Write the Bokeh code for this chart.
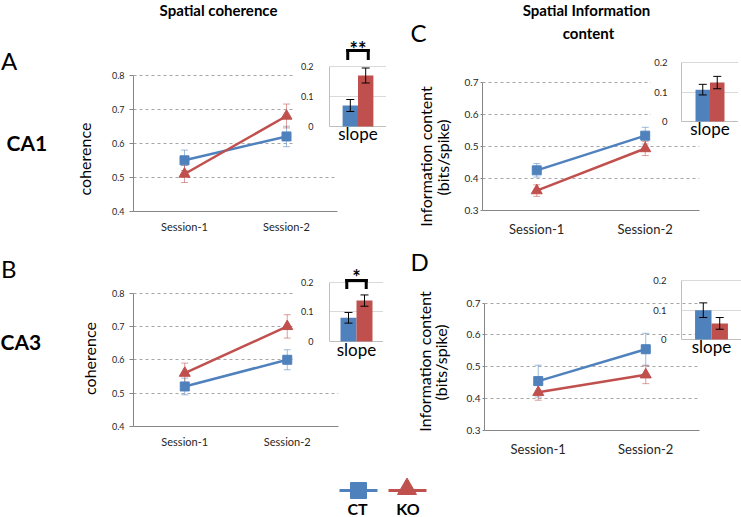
from bokeh.plotting import figure
from bokeh.models import (ColumnDataSource, FactorRange, Range1d, FixedTicker,
                          Whisker, TeeHead, GridBox, Span)
from bokeh.transform import dodge
from bokeh.core.properties import value
from bokeh.embed import file_html
from bokeh.resources import INLINE
import math

FONT = "Lato"
BLUE = "#4F81BD"
RED = "#C0504D"
AXIS = "#868686"
GRID = "#A6A6A6"
TXT = "#262626"

# ---------------- data ----------------
sessions = ["Session-1", "Session-2"]

# Panel A: CA1 spatial coherence
a_ct = [0.55, 0.62]
a_ct_err = [0.03, 0.03]
a_ko = [0.51, 0.68]
a_ko_err = [0.025, 0.035]
# Panel B: CA3 spatial coherence
b_ct = [0.52, 0.60]
b_ct_err = [0.025, 0.03]
b_ko = [0.56, 0.70]
b_ko_err = [0.03, 0.035]
# Panel C: CA1 information content
c_ct = [0.425, 0.533]
c_ct_err = [0.021, 0.026]
c_ko = [0.362, 0.493]
c_ko_err = [0.018, 0.022]
# Panel D: CA3 information content
d_ct = [0.455, 0.555]
d_ct_err = [0.05, 0.05]
d_ko = [0.42, 0.475]
d_ko_err = [0.025, 0.028]

coh_ticks = [0.4, 0.5, 0.6, 0.7, 0.8]
info_ticks = [0.3, 0.4, 0.5, 0.6, 0.7]

# inset slope bars (order: A, B, C, D)
slope_cat = ["slope"]
slope_ticks = [0, 0.1, 0.2]
slope_ct = [0.07, 0.08, 0.108, 0.10]
slope_ct_err = [0.02, 0.018, 0.018, 0.025]
slope_ko = [0.17, 0.138, 0.132, 0.055]
slope_ko_err = [0.025, 0.019, 0.021, 0.02]
sig_marks = ["**", "*"]
sig_bracket_top = [0.253, 0.206]
sig_bracket_leg = [0.026, 0.024]
sig_star_base = [0.257, 0.217]

legend_labels = ["CT", "KO"]


def clear_fill(p, opaque):
    p.outline_line_color = None
    if opaque:
        p.background_fill_color = "white"
        p.border_fill_color = "white"
    else:
        p.background_fill_alpha = 0
        p.border_fill_alpha = 0


def main_panel(ct, cte, ko, koe, ticks, fw, fh, borders, tick_fs, cat_fs,
               cat_standoff, tick_out, tick_standoff):
    bl, bt, br, bb = borders
    lo, hi = ticks[0], ticks[-1]
    pad = (hi - lo) * 0.004
    p = figure(x_range=FactorRange(factors=sessions, range_padding=0),
               y_range=Range1d(lo, hi + pad),
               width=bl + fw + br, height=bt + fh + bb,
               min_border_left=bl, min_border_top=bt,
               min_border_right=br, min_border_bottom=bb,
               toolbar_location=None, output_backend="svg", title=None)
    clear_fill(p, False)
    src = ColumnDataSource(dict(
        x=sessions, ct=ct, ko=ko,
        ct_lo=[v - e for v, e in zip(ct, cte)], ct_hi=[v + e for v, e in zip(ct, cte)],
        ko_lo=[v - e for v, e in zip(ko, koe)], ko_hi=[v + e for v, e in zip(ko, koe)]))
    for key, col in (("ct", BLUE), ("ko", RED)):
        w = Whisker(source=src, base="x", lower=key + "_lo", upper=key + "_hi",
                    line_color=col, line_alpha=0.55, line_width=1,
                    upper_head=TeeHead(size=7, line_color=col, line_alpha=0.55, line_width=1),
                    lower_head=TeeHead(size=7, line_color=col, line_alpha=0.55, line_width=1))
        p.add_layout(w)
    p.line("x", "ct", source=src, line_color=BLUE, line_width=2.5)
    p.line("x", "ko", source=src, line_color=RED, line_width=2.5)
    p.scatter("x", "ct", source=src, marker="square", size=9,
              fill_color=BLUE, line_color=BLUE)
    p.scatter("x", "ko", source=src, marker="triangle", size=11,
              fill_color=RED, line_color=RED)

    xa = p.xaxis[0]
    xa.axis_line_color = AXIS
    xa.major_tick_line_color = None
    xa.minor_tick_line_color = None
    xa.major_label_text_font = FONT
    xa.major_label_text_font_size = cat_fs
    xa.major_label_text_color = TXT
    xa.major_label_standoff = cat_standoff

    ya = p.yaxis[0]
    ya.ticker = FixedTicker(ticks=ticks)
    ya.bounds = (lo, hi)
    ya.axis_line_color = AXIS
    ya.major_tick_line_color = AXIS
    ya.major_tick_out = tick_out
    ya.major_tick_in = 0
    ya.minor_tick_line_color = None
    ya.major_label_text_font = FONT
    ya.major_label_text_font_size = tick_fs
    ya.major_label_text_color = TXT
    ya.major_label_standoff = tick_standoff

    p.xgrid.visible = False
    p.ygrid.ticker = FixedTicker(ticks=ticks)
    p.ygrid.grid_line_color = GRID
    p.ygrid.grid_line_dash = "3 3"
    p.ygrid.grid_line_width = 1
    return p


def inset_panel(i, fw, px_per_unit, above_px, below_px, label_px, bl, opaque,
                bar_w, tick_fs, tick_standoff):
    """above_px: frame height above value 0; below_px: frame height below 0."""
    p = figure(x_range=FactorRange(factors=slope_cat, range_padding=0),
               y_range=Range1d(-below_px / px_per_unit, above_px / px_per_unit),
               width=bl + fw, height=above_px + below_px,
               min_border_left=bl, min_border_top=0,
               min_border_right=0, min_border_bottom=0,
               x_axis_location=None,
               toolbar_location=None, output_backend="svg", title=None)
    clear_fill(p, opaque)
    src = ColumnDataSource(dict(
        cat=slope_cat, ct=[slope_ct[i]], ko=[slope_ko[i]],
        ct_lo=[slope_ct[i] - slope_ct_err[i]], ct_hi=[slope_ct[i] + slope_ct_err[i]],
        ko_lo=[slope_ko[i] - slope_ko_err[i]], ko_hi=[slope_ko[i] + slope_ko_err[i]]))
    p.ygrid.ticker = FixedTicker(ticks=slope_ticks)
    p.ygrid.grid_line_color = "#D9D9D9"
    p.ygrid.grid_line_width = 1
    p.xgrid.visible = False
    p.add_layout(Span(location=0, dimension="width", line_color="#BFBFBF", line_width=1,
                      level="underlay"))
    for key, col, off in (("ct", BLUE, -bar_w / 2), ("ko", RED, bar_w / 2)):
        p.vbar(x=dodge("cat", off, range=p.x_range), top=key, bottom=0, width=bar_w,
               source=src, fill_color=col, line_color=None)
    for key, off in (("ct", -bar_w / 2), ("ko", bar_w / 2)):
        w = Whisker(source=src, base=dodge("cat", off, range=p.x_range),
                    lower=key + "_lo", upper=key + "_hi",
                    line_color="black", line_width=1, level="annotation",
                    upper_head=TeeHead(size=8, line_color="black", line_width=1),
                    lower_head=TeeHead(size=8, line_color="black", line_width=1))
        p.add_layout(w)

    # category label under the baseline
    lsrc = ColumnDataSource(dict(cat=slope_cat, y=[-label_px / px_per_unit]))
    p.text(x="cat", y="y", text="cat", source=lsrc, text_font=value(FONT),
           text_font_size="17px", text_align="center", text_baseline="alphabetic",
           text_color="black")

    if i < len(sig_marks):
        h = 0.18
        t = sig_bracket_top[i]
        b = t - sig_bracket_leg[i]
        bsrc = ColumnDataSource(dict(cat=slope_cat, top=[t], bot=[b],
                                     sy=[sig_star_base[i]], s=[sig_marks[i]]))
        p.segment(x0=dodge("cat", -h, range=p.x_range), x1=dodge("cat", h, range=p.x_range),
                  y0="top", y1="top", source=bsrc, line_color="black", line_width=3,
                  line_cap="square")
        for off in (-h, h):
            p.segment(x0=dodge("cat", off, range=p.x_range), x1=dodge("cat", off, range=p.x_range),
                      y0="top", y1="bot", source=bsrc, line_color="black", line_width=3,
                      line_cap="square")
        p.text(x=dodge("cat", 0, range=p.x_range), y="sy", text="s", source=bsrc,
               text_font=value(FONT), text_font_style="bold", text_font_size="20px",
               text_align="center", text_baseline="alphabetic", text_color="black")

    ya = p.yaxis[0]
    ya.ticker = FixedTicker(ticks=slope_ticks)
    ya.bounds = (0, 0.2)
    ya.axis_line_color = "#BFBFBF"
    ya.major_tick_line_color = None
    ya.minor_tick_line_color = None
    ya.major_label_overrides = {0: "0"}
    ya.major_label_text_font = FONT
    ya.major_label_text_font_size = tick_fs
    ya.major_label_text_color = TXT
    ya.major_label_standoff = tick_standoff
    return p


# ---------------- background canvas with labels ----------------
W, H = 741, 517
bg = figure(width=W, height=H, x_range=Range1d(0, W), y_range=Range1d(H, 0),
            min_border=0, toolbar_location=None, output_backend="svg",
            x_axis_type=None, y_axis_type=None, title=None)
bg.outline_line_color = None
bg.background_fill_color = "white"
bg.border_fill_color = "white"


def bg_text(xs, ys, texts, size, bold=False, angle=0.0, align="center"):
    src = ColumnDataSource(dict(x=xs, y=ys, t=texts))
    bg.text(x="x", y="y", text="t", source=src, text_font=value(FONT),
            text_font_size=size, text_font_style="bold" if bold else "normal",
            text_align=align, text_baseline="alphabetic", angle=angle,
            text_color="black")


bg_text([218, 586], [9.5, 9.5], ["Spatial coherence", "Spatial Information"], "15px", bold=True)
bg_text([588], [32], ["content"], "15px", bold=True)
bg_text([0.5, 0.5, 410, 410], [60, 268, 32, 261], ["A", "B", "C", "D"], "24px", align="left")
bg_text([6, 0], [142, 340.5], ["CA1", "CA3"], "21px", bold=True, align="left")
bg_text([84, 88.5], [158.5, 358], ["coherence", "coherence"], "16px", angle=math.pi / 2)
bg_text([425, 423.5], [156, 361], ["Information content", "Information content"], "16px",
        angle=math.pi / 2)
bg_text([441.5, 439.5], [157, 362], ["(bits/spike)", "(bits/spike)"], "16px", angle=math.pi / 2)

# legend
bg.segment(x0=[339, 388], x1=[377, 426], y0=[490, 490], y1=[490, 490],
           line_color=[BLUE, RED], line_width=3)
bg.scatter([358], [490], marker="square", size=16, fill_color=BLUE, line_color=BLUE)
bg.scatter([406.5], [488.5], marker="triangle", size=19, fill_color=RED, line_color=RED)
bg_text([357, 407.5], [508, 508], legend_labels, "16px", bold=True)

# ---------------- panels ----------------
pA = main_panel(a_ct, a_ct_err, a_ko, a_ko_err, coh_ticks, 204, 137, (73, 4, 6, 45),
                "9px", "11px", 2, 4, 5)
pB = main_panel(b_ct, b_ct_err, b_ko, b_ko_err, coh_ticks, 205, 134, (73, 4, 6, 45),
                "9px", "11px", 2, 4, 5)
pC = main_panel(c_ct, c_ct_err, c_ko, c_ko_err, info_ticks, 217, 129, (30, 4, 6, 45),
                "10px", "13px", 4, 2, 2)
pD = main_panel(d_ct, d_ct_err, d_ko, d_ko_err, info_ticks, 215, 128, (30, 4, 6, 45),
                "10px", "13px", 4, 2, 2)

iA = inset_panel(0, 59, 300, 96, 21, 7, 34, True, 0.27, "9px", 10)
iB = inset_panel(1, 54, 296.5, 85, 21, 8, 36, True, 0.296, "9px", 10)
iC = inset_panel(2, 61, 295, 66, 20, 7, 27, True, 0.254, "9.5px", 8)
iD = inset_panel(3, 65, 293, 66, 21, 7, 26, False, 0.274, "9.5px", 9)

children = [(bg, 0, 0, H, W)]


def place(fig, left, top):
    children.append((fig, top, left, fig.height, fig.width))


place(pA, 60, 70)
place(pB, 60, 288)
place(pC, 452, 77)
place(pD, 454, 298)
place(iA, 293, 30)
place(iB, 293, 256)
place(iC, 650, 55)
place(iD, 650, 273)

layout = GridBox(children=children, rows="1px", cols="1px", spacing=0)

with open("out.html", "w") as f:
    f.write(file_html(layout, INLINE, title="Spatial coherence and information content"))
